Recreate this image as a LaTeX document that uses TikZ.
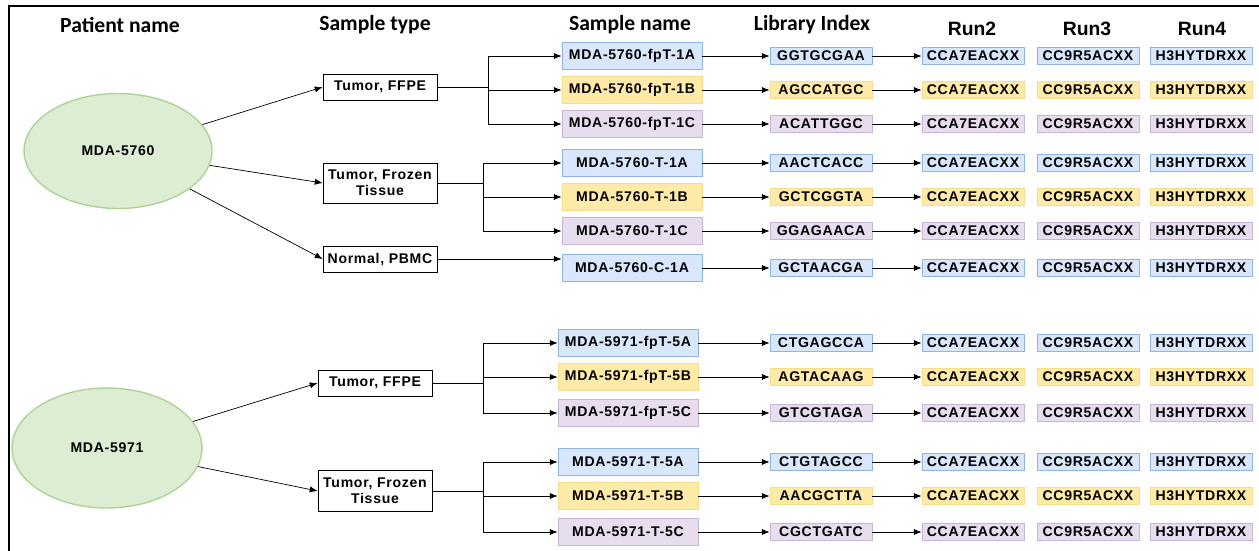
\documentclass[tikz,border=0pt]{standalone}
\usepackage{fontspec}
\setmainfont{Liberation Sans}
\newfontfamily\headfont{Carlito}
\newfontfamily\boxfont[LetterSpace=5]{Liberation Sans}
\usetikzlibrary{arrows.meta,shapes.geometric}

\definecolor{bluefill}{HTML}{D8E7FB}
\definecolor{blueline}{HTML}{8FB3E3}
\definecolor{yelfill}{HTML}{FFEAA8}
\definecolor{yelline}{HTML}{F7DC8E}
\definecolor{purfill}{HTML}{E7DDEF}
\definecolor{purline}{HTML}{C6B5D5}
\definecolor{patfill}{HTML}{DDEDD4}
\definecolor{patline}{HTML}{AFD396}

\tikzset{
  head/.style={font=\headfont\bfseries\fontsize{12.3}{14}\selectfont},
  runhead/.style={font=\bfseries\fontsize{11}{13}\selectfont},
  patient/.style={ellipse, draw=patline, fill=patfill, thick,
    font=\boxfont\bfseries\fontsize{8}{9}\selectfont},
  typebox/.style={draw, thin, minimum width=2.28cm, minimum height=0.52cm,
    align=center, inner sep=1pt, font=\boxfont\bfseries\fontsize{8}{9}\selectfont},
  samplebox/.style={minimum width=2.8cm, minimum height=0.54cm, inner sep=1pt,
    font=\boxfont\bfseries\fontsize{8}{9}\selectfont},
  tagbox/.style={minimum width=2.04cm, minimum height=0.34cm, inner sep=1pt,
    font=\boxfont\bfseries\fontsize{8}{9}\selectfont},
  blu/.style={draw=blueline, fill=bluefill},
  yel/.style={draw=yelline, fill=yelfill},
  pur/.style={draw=purline, fill=purfill},
  arr/.style={-{Latex[length=4.5pt,width=3.5pt]}, thin}
}

\begin{document}
\begin{tikzpicture}[x=0.02cm, y=-0.02cm]
  \useasboundingbox (0,0) rectangle (1259,551);
  % frame
  \draw[line width=1.1pt] (9,551) -- (9,6) -- (1259,6);

  % column headers
  \node[head] (hpat) at (120,25) {Patient name};
  \node[head] (htype) at (375,25) {Sample type};
  \node[head] (hname) at (630,25) {Sample name};
  \node[head] (hlib) at (812,25) {Library Index};
  \node[runhead] (hrun2) at (972,29) {Run2};
  \node[runhead] (hrun3) at (1087,29) {Run3};
  \node[runhead] (hrun4) at (1202,29) {Run4};

  % patients
  \node[patient, minimum width=3.76cm, minimum height=2.3cm] (p1) at (118,151) {MDA-5760};
  \node[patient, minimum width=3.8cm, minimum height=2.4cm] (p2) at (107,448) {MDA-5971};

  % sample types
  \node[typebox] (t1) at (380,87) {Tumor, FFPE};
  \node[typebox, minimum height=0.8cm] (t2) at (380,183) {Tumor, Frozen\\Tissue};
  \node[typebox] (t3) at (380,259) {Normal, PBMC};
  \node[typebox] (t4) at (375,383) {Tumor, FFPE};
  \node[typebox, minimum height=0.82cm] (t5) at (375,491) {Tumor, Frozen\\Tissue};

  \draw[arr] (p1) -- (t1.west);
  \draw[arr] (p1) -- (t2.west);
  \draw[arr] (p1) -- (t3.west);
  \draw[arr] (p2) -- (t4.west);
  \draw[arr] (p2) -- (t5.west);

  % sample rows: name, library index, flow cells of runs 2-4
  \foreach \i/\y/\c/\sx/\sname/\lib in {
      1/56/blu/632/MDA-5760-fpT-1A/GGTGCGAA,
      2/90/yel/632/MDA-5760-fpT-1B/AGCCATGC,
      3/124/pur/632/MDA-5760-fpT-1C/ACATTGGC,
      4/163/blu/632/MDA-5760-T-1A/AACTCACC,
      5/197/yel/632/MDA-5760-T-1B/GCTCGGTA,
      6/231/pur/632/MDA-5760-T-1C/GGAGAACA,
      7/268/blu/632/MDA-5760-C-1A/GCTAACGA,
      8/343/blu/628/MDA-5971-fpT-5A/CTGAGCCA,
      9/377/yel/628/MDA-5971-fpT-5B/AGTACAAG,
      10/413/pur/628/MDA-5971-fpT-5C/GTCGTAGA,
      11/462/blu/628/MDA-5971-T-5A/CTGTAGCC,
      12/496/yel/628/MDA-5971-T-5B/AACGCTTA,
      13/532/pur/628/MDA-5971-T-5C/CGCTGATC} {
    \node[samplebox, \c] (s\i) at (\sx,\y) {\sname};
    \node[tagbox, \c] (l\i) at (821,\y) {\lib};
    \node[tagbox, \c] (ra\i) at (973,\y) {CCA7EACXX};
    \node[tagbox, \c] (rb\i) at (1088,\y) {CC9R5ACXX};
    \node[tagbox, \c] (rc\i) at (1201,\y) {H3HYTDRXX};
    \draw[arr] (s\i) -- (l\i);
    \draw[arr] (l\i) -- (ra\i);
  }

  % branches from sample types to samples
  \coordinate (j1) at (488,87);
  \coordinate (j2) at (483,183);
  \coordinate (j4) at (483,383);
  \coordinate (j5) at (483,491);
  \draw (t1.east) -- (j1);
  \foreach \i in {1,2,3} \draw[arr] (j1) |- (s\i.west);
  \draw (t2.east) -- (j2);
  \foreach \i in {4,5,6} \draw[arr] (j2) |- (s\i.west);
  \draw[arr] (t3.east) -- (t3.east -| s7.west);
  \draw (t4.east) -- (j4);
  \foreach \i in {8,9,10} \draw[arr] (j4) |- (s\i.west);
  \draw (t5.east) -- (j5);
  \foreach \i in {11,12,13} \draw[arr] (j5) |- (s\i.west);
\end{tikzpicture}
\end{document}
